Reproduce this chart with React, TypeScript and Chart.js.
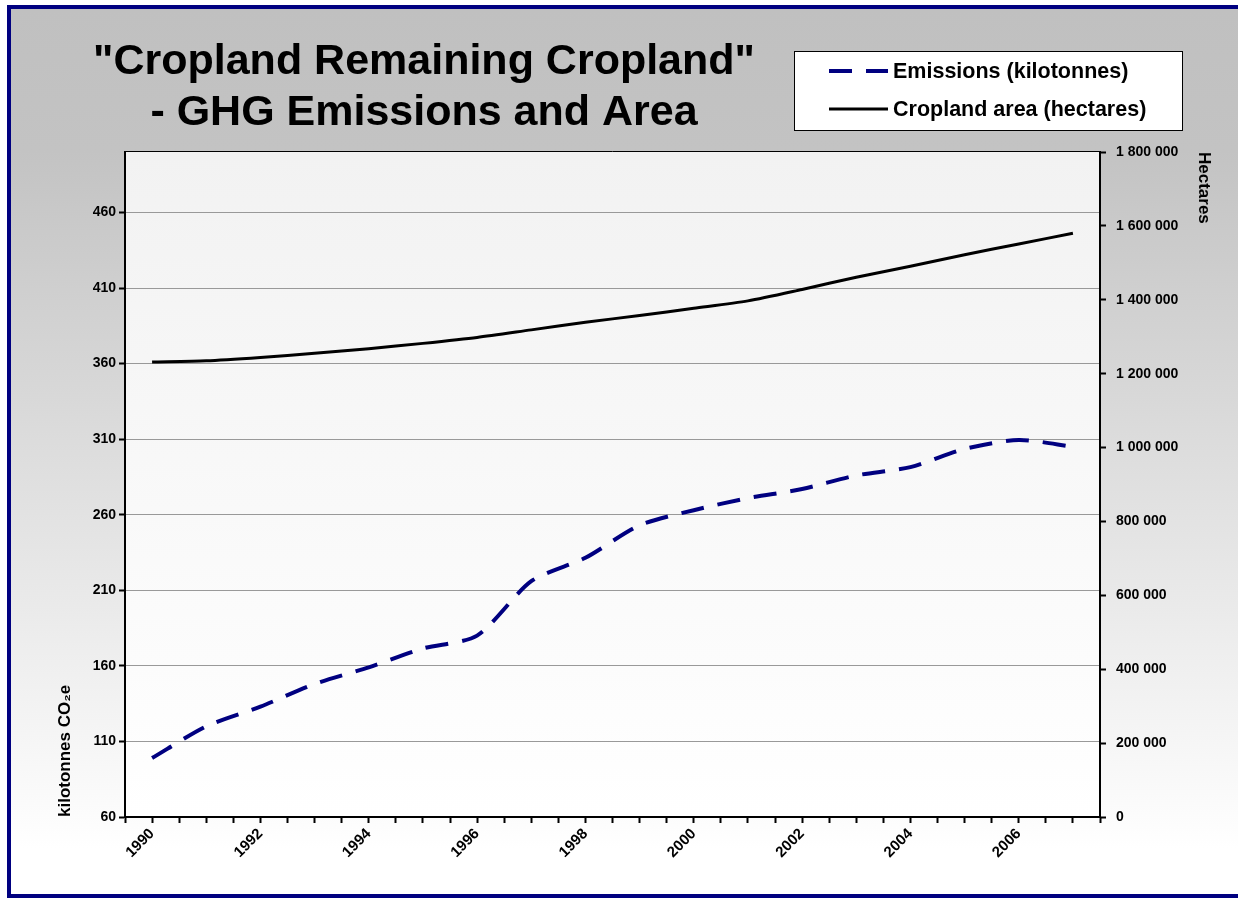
import React, { useEffect, useRef } from "react";
import { Chart, registerables } from "chart.js";

Chart.register(...registerables);

// ---- data ----
const years = [1990, 1991, 1992, 1993, 1994, 1995, 1996, 1997, 1998, 1999, 2000, 2001, 2002, 2003, 2004, 2005, 2006, 2007];
const emissions = [99, 120, 133, 148, 159, 171.5, 180, 216, 231.5, 253, 263, 271, 277, 286, 291.5, 303.5, 309.5, 305];
const croplandArea = [1231600, 1235000, 1244000, 1255000, 1267500, 1282000, 1298000, 1318500, 1339000, 1357500, 1377000, 1397000, 1428000, 1461000, 1491000, 1522000, 1551000, 1580000];
const leftTicks = [60, 110, 160, 210, 260, 310, 360, 410, 460];
const rightTicks = [0, 200000, 400000, 600000, 800000, 1000000, 1200000, 1400000, 1600000, 1800000];
const xLabelYears = [1990, 1992, 1994, 1996, 1998, 2000, 2002, 2004, 2006];
const titleLines = ['"Cropland Remaining Cropland"', "- GHG Emissions and Area"];
const seriesLabels = ["Emissions (kilotonnes)", "Cropland area (hectares)"];
const leftAxisTitle = "kilotonnes CO\u2082e";
const rightAxisTitle = "Hectares";

const FONT = "Arial, 'Liberation Sans', sans-serif";

const fmtSpace = (v: number) => String(v).replace(/\B(?=(\d{3})+(?!\d))/g, " ");

const xTickValues = years.flatMap((y) => [y - 0.5, y]).concat([years[years.length - 1] + 0.5]);

const decorPlugin = {
  id: "decor",
  beforeDraw(chart: any) {
    const { ctx, chartArea: a } = chart;
    const g = ctx.createLinearGradient(0, a.top, 0, a.bottom);
    g.addColorStop(0, "#f2f2f2");
    g.addColorStop(1, "#ffffff");
    ctx.save();
    ctx.fillStyle = g;
    ctx.fillRect(a.left, a.top, a.right - a.left, a.bottom - a.top);
    ctx.restore();
  },
  afterDraw(chart: any) {
    const { ctx, chartArea: a } = chart;
    ctx.save();
    // top border of plot area
    ctx.strokeStyle = "#000";
    ctx.lineWidth = 1;
    ctx.beginPath();
    ctx.moveTo(a.left, a.top - 0.5);
    ctx.lineTo(a.right, a.top - 0.5);
    ctx.stroke();

    // title
    ctx.fillStyle = "#000";
    ctx.font = `bold 43px ${FONT}`;
    ctx.textAlign = "center";
    ctx.textBaseline = "alphabetic";
    ctx.fillText(titleLines[0], 413, 65);
    ctx.fillText(titleLines[1], 413, 116);

    // legend
    const bx = 783, by = 42, bw = 389, bh = 80;
    ctx.fillStyle = "#fff";
    ctx.fillRect(bx, by, bw, bh);
    ctx.strokeStyle = "#000";
    ctx.lineWidth = 1;
    ctx.strokeRect(bx + 0.5, by + 0.5, bw - 1, bh - 1);
    const rows = [62, 100];
    chart.data.datasets.forEach((ds: any, i: number) => {
      const y = rows[i];
      ctx.save();
      ctx.strokeStyle = ds.borderColor;
      ctx.lineWidth = ds.borderWidth;
      ctx.setLineDash(ds.borderDash || []);
      ctx.beginPath();
      ctx.moveTo(818, y);
      ctx.lineTo(877, y);
      ctx.stroke();
      ctx.restore();
      ctx.fillStyle = "#000";
      ctx.font = `bold 21.5px ${FONT}`;
      ctx.textAlign = "left";
      ctx.textBaseline = "middle";
      ctx.fillText(ds.label, 882, y + 1);
    });
    ctx.restore();
  },
};

export default function App() {
  const ref = useRef<HTMLCanvasElement | null>(null);

  useEffect(() => {
    const canvas = ref.current;
    if (!canvas) return;
    const tickFont = { family: FONT, size: 14, weight: "bold" as const };
    const chart = new Chart(canvas, {
      type: "line",
      data: {
        datasets: [
          {
            label: seriesLabels[0],
            data: years.map((x, i) => ({ x, y: emissions[i] })),
            yAxisID: "yLeft",
            borderColor: "#000080",
            borderWidth: 4,
            borderDash: [23, 14],
            pointRadius: 0,
            tension: 0.25,
            fill: false,
          },
          {
            label: seriesLabels[1],
            data: years.map((x, i) => ({ x, y: croplandArea[i] })),
            yAxisID: "yRight",
            borderColor: "#000000",
            borderWidth: 3,
            pointRadius: 0,
            tension: 0.25,
            fill: false,
          },
        ],
      },
      options: {
        animation: false,
        responsive: false,
        devicePixelRatio: 1,
        layout: { padding: { top: 143, left: 0, right: 0, bottom: 0 } },
        plugins: {
          legend: { display: false },
          title: { display: false },
          tooltip: { enabled: false },
        },
        scales: {
          x: {
            type: "linear",
            min: 1989.5,
            max: 2007.5,
            afterBuildTicks: (s: any) => {
              s.ticks = xTickValues.map((v) => ({ value: v }));
            },
            afterFit: (s: any) => {
              s.height = 77;
            },
            ticks: {
              autoSkip: false,
              minRotation: 45,
              maxRotation: 45,
              padding: 2,
              color: "#000",
              font: { family: FONT, size: 15, weight: "bold" },
              callback: (v: any) => (xLabelYears.includes(Number(v)) ? String(v) : ""),
            },
            grid: { drawOnChartArea: false, drawTicks: true, tickLength: 6, tickColor: "#000", tickWidth: 2 },
            border: { color: "#000", width: 2 },
          },
          yLeft: {
            type: "linear",
            position: "left",
            min: 60,
            max: 500,
            afterBuildTicks: (s: any) => {
              s.ticks = leftTicks.map((v) => ({ value: v }));
            },
            afterFit: (s: any) => {
              s.width = 114;
            },
            ticks: { color: "#000", font: tickFont, padding: 3, callback: (v: any) => String(v) },
            grid: { color: "#999999", lineWidth: 1, tickColor: "#000", tickWidth: 2, tickLength: 6 },
            border: { color: "#000", width: 2 },
            title: {
              display: true,
              text: leftAxisTitle,
              align: "start",
              color: "#000",
              font: { family: FONT, size: 17, weight: "bold" },
              padding: { top: 44, bottom: 0 },
            },
          },
          yRight: {
            type: "linear",
            position: "right",
            min: 0,
            max: 1800000,
            afterBuildTicks: (s: any) => {
              s.ticks = rightTicks.map((v) => ({ value: v }));
            },
            afterFit: (s: any) => {
              s.width = 139;
            },
            ticks: { color: "#000", font: tickFont, padding: 10, callback: (v: any) => fmtSpace(Number(v)) },
            grid: { drawOnChartArea: false, tickColor: "#000", tickWidth: 2, tickLength: 6 },
            border: { color: "#000", width: 2 },
            title: {
              display: true,
              text: rightAxisTitle,
              align: "end",
              color: "#000",
              font: { family: FONT, size: 17, weight: "bold" },
              padding: { top: 25, bottom: 0 },
            },
          },
        },
      } as any,
      plugins: [decorPlugin],
    });
    return () => chart.destroy();
  }, []);

  return (
    <div
      style={{
        position: "fixed",
        left: 7,
        top: 5,
        width: 1236,
        height: 893,
        boxSizing: "border-box",
        border: "4px solid #000080",
        background: "linear-gradient(to bottom, #c0c0c0 0%, #c3c3c3 16%, #ffffff 95%)",
        overflow: "hidden",
      }}
    >
      <canvas ref={ref} width={1228} height={885} style={{ display: "block", width: 1228, height: 885 }} />
    </div>
  );
}
